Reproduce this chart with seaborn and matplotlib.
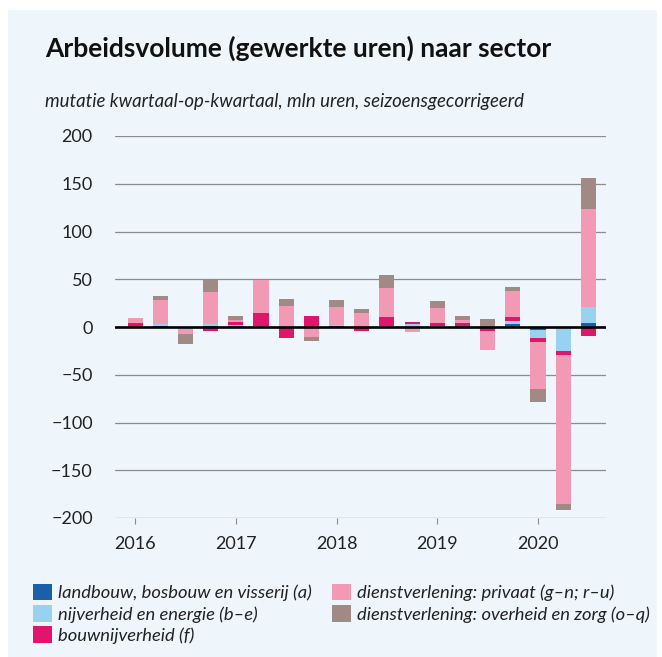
import numpy as np
import pandas as pd
import seaborn as sns
import matplotlib.pyplot as plt
from matplotlib.patches import Patch, Rectangle

# quarters 2016 K1 .. 2020 K3
quarters = ["2016K1", "2016K2", "2016K3", "2016K4",
            "2017K1", "2017K2", "2017K3", "2017K4",
            "2018K1", "2018K2", "2018K3", "2018K4",
            "2019K1", "2019K2", "2019K3", "2019K4",
            "2020K1", "2020K2", "2020K3"]
year_labels = ["2016", "2017", "2018", "2019", "2020"]
year_ticks = ["2016K1", "2017K1", "2018K1", "2019K1", "2020K1"]

sectors = ["landbouw, bosbouw en visserij (a)",
           "nijverheid en energie (b–e)",
           "bouwnijverheid (f)",
           "dienstverlening: privaat (g–n; r–u)",
           "dienstverlening: overheid en zorg (o–q)"]

# mutatie kwartaal-op-kwartaal, mln uren
landbouw = [0.5, 1, 0, 1, 1, 0, 0, 0, 1, 0, 0.5, 0.5, 0.5, 1, 0, 3, -3, -1, 4]
nijverheid = [-1, 2, -2.5, 2, 1.5, 1, 0.5, -1.5, 1.5, 0.5, 1, 3, 1, -2.5, 0, 3.5, -9, -24, 16.5]
bouw = [3.5, 0, 0, -4, 3, 14, -11.5, 11.5, 0, -4.5, 8.5, 2, 3, 3, -4.5, 3.5, -3.5, -4.5, -9]
privaat = [5.5, 25, -5, 33.5, 1.5, 34, 21.5, -8.5, 18.5, 14, 31, -5.5, 15.5, 3, -19.5, 28, -49, -156, 103]
overheid = [0, 4, -10.5, 13, 5, 0.5, 7.5, -4.5, 7.5, 4.5, 13, 0, 7, 4.5, 8, 3.5, -14, -6, 32]

y_ticks = [-200, -150, -100, -50, 0, 50, 100, 150, 200]
y_labels = ["−200", "−150", "−100", "−50", "0", "50", "100", "150", "200"]

colors = ["#1b5eaa", "#98d2f0", "#e2156c", "#f29ab5", "#a18a85"]
bg = "#eef6fb"
grid_col = "#8c8c8c"

sns.set_theme(style="white")
plt.rcParams['font.family'] = ['Lato', 'DejaVu Sans']

fig = plt.figure(figsize=(6.62, 6.57), dpi=100, facecolor="white")
fig.patches.append(Rectangle((8 / 662, 0), 649 / 662, 647 / 657, transform=fig.transFigure,
                             facecolor=bg, edgecolor="none", zorder=-5))
ax = fig.add_axes([115 / 662, 1 - 518 / 657, 491 / 662, 382 / 657])
ax.set_zorder(2)
ax.set_facecolor("none")

# stacked bars: positives upward, negatives downward, each from zero
n = len(quarters)
pos_base = np.zeros(n)
neg_base = np.zeros(n)
for name, vals, color in zip(sectors, [landbouw, nijverheid, bouw, privaat, overheid], colors):
    vals = np.array(vals, dtype=float)
    bottom = np.where(vals >= 0, pos_base, neg_base)
    df = pd.DataFrame({"kwartaal": quarters, "mutatie": vals})
    sns.barplot(data=df, x="kwartaal", y="mutatie", order=quarters, color=color,
                saturation=1, width=0.6, errorbar=None, bottom=bottom,
                linewidth=0, ax=ax, zorder=2)
    pos_base += np.clip(vals, 0, None)
    neg_base += np.clip(vals, None, 0)

ax.axhline(0, color="black", lw=1.9, zorder=3)

ax.set_ylim(-200, 200)
ax.set_xlim(-0.8, n - 1 + 0.7)
ax.set_yticks(y_ticks)
ax.set_yticklabels(y_labels)
ax.set_xticks([quarters.index(q) for q in year_ticks])
ax.set_xticklabels(year_labels)
ax.yaxis.grid(True, color=grid_col, lw=0.9, zorder=1)
ax.xaxis.grid(False)
ax.set_axisbelow(True)
for s in ax.spines.values():
    s.set_visible(False)
ax.tick_params(axis="y", length=0, pad=16, labelsize=13, labelcolor="#222222")
ax.tick_params(axis="x", length=4, width=0.8, color=grid_col, direction="out",
               pad=9, labelsize=13, labelcolor="#222222", bottom=True)
ax.set_xlabel("")
ax.set_ylabel("")

fig.text(45 / 662, 1 - 48 / 657, "Arbeidsvolume (gewerkte uren) naar sector",
         fontsize=19, fontweight="bold", va="center", ha="left", color="#111111")
fig.text(45 / 662, 1 - 101 / 657, "mutatie kwartaal-op-kwartaal, mln uren, seizoensgecorrigeerd",
         fontsize=13.4, style="italic", va="center", ha="left", color="#222222")

handles = [Patch(facecolor=c, edgecolor="none") for c in colors]
fig.legend(handles, sectors, ncol=2, loc="upper left",
           bbox_to_anchor=(33 / 662, 1 - 584 / 657), frameon=False,
           prop={"style": "italic", "size": 13.2}, handlelength=1.05, handleheight=1.0,
           handletextpad=0.3, labelspacing=0.2, columnspacing=1.1,
           borderpad=0, borderaxespad=0, labelcolor="#222222")

fig.savefig("out.png", dpi=100)
